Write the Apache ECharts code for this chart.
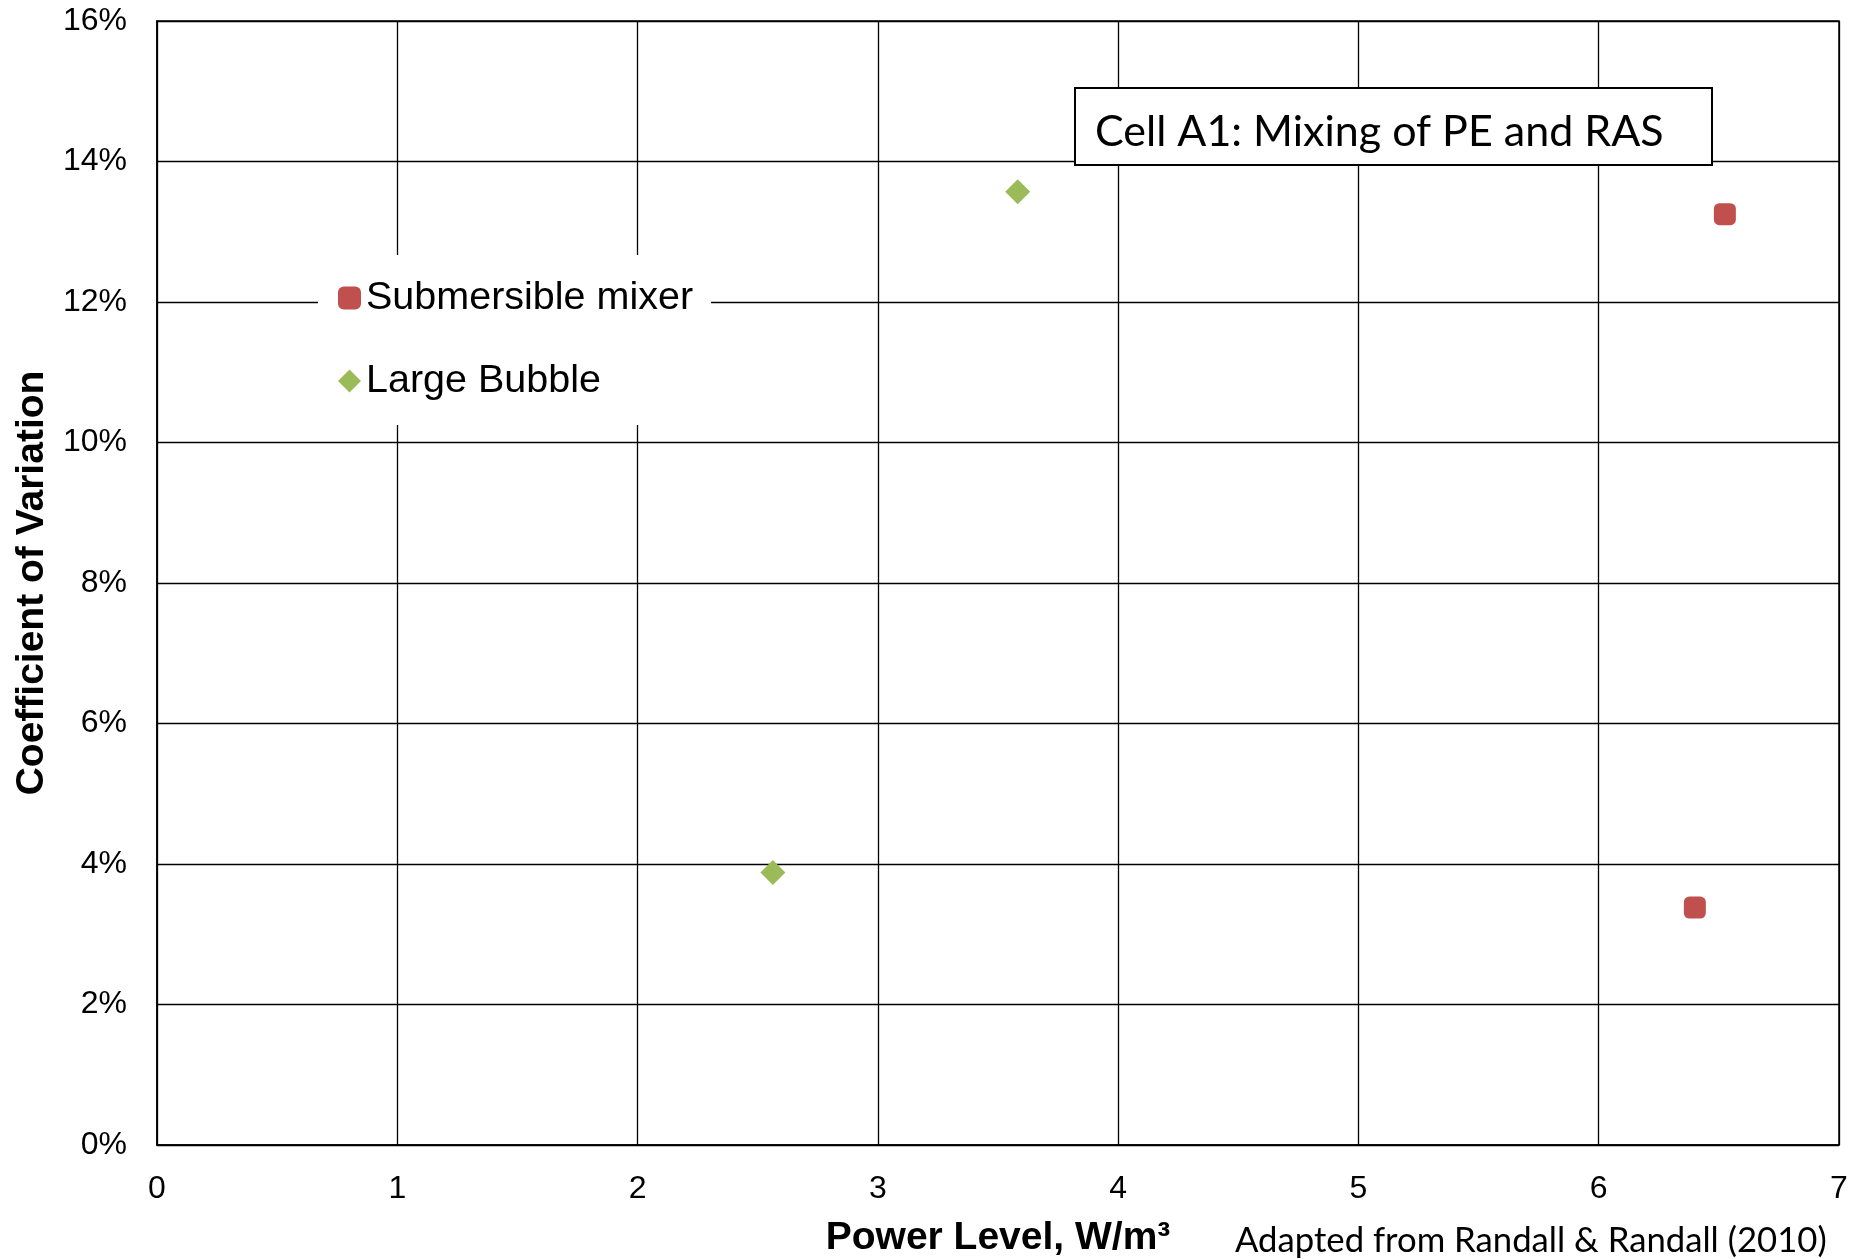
<!DOCTYPE html>
<html>
<head>
<meta charset="utf-8">
<script src="https://cdn.jsdelivr.net/npm/echarts@6/dist/echarts.min.js"></script>
<style>
html,body{margin:0;padding:0;background:#fff;}
#chart{width:1850px;height:1259px;}
</style>
</head>
<body>
<div id="chart"></div>
<script>
// Data (x = power level W/m³, y = coefficient of variation %)
const submersibleMixer = [[6.40, 3.38], [6.525, 13.25]];
const largeBubble = [[2.563, 3.88], [3.582, 13.57]];
const seriesNames = ['Submersible mixer', 'Large Bubble'];
const xTitle = 'Power Level, W/m³';
const yTitle = 'Coefficient of Variation';
const boxTitle = 'Cell A1: Mixing of PE and RAS';
const sourceNote = 'Adapted from Randall & Randall (2010)';

const chart = echarts.init(document.getElementById('chart'), null, {renderer: 'canvas'});
const AR = "'Liberation Sans', Arial, sans-serif";
const CAL = "Lato, 'Open Sans', sans-serif";

chart.setOption({
  animation: false,
  backgroundColor: '#fff',
  grid: {left: 157, right: 11, top: 21, bottom: 114, containLabel: false, outerBoundsMode: 'none', show: true, borderColor: '#000', borderWidth: 1.5, backgroundColor: 'transparent'},
  xAxis: {
    type: 'value', min: 0, max: 7, interval: 1,
    name: xTitle, nameLocation: 'middle', nameGap: 74,
    nameTextStyle: {fontFamily: AR, fontSize: 39, fontWeight: 'bold', color: '#000'},
    axisLine: {show: true, lineStyle: {color: '#000', width: 1.5}},
    axisTick: {show: false},
    axisLabel: {fontFamily: AR, fontSize: 32, color: '#000', margin: 28},
    splitLine: {show: true, lineStyle: {color: '#000', width: 1.3}}
  },
  yAxis: {
    type: 'value', min: 0, max: 16, interval: 2,
    name: yTitle, nameLocation: 'middle', nameGap: 104, nameRotate: 90,
    nameTextStyle: {fontFamily: AR, fontSize: 39, fontWeight: 'bold', color: '#000'},
    axisLine: {show: true, lineStyle: {color: '#000', width: 1.5}},
    axisTick: {show: false},
    axisLabel: {fontFamily: AR, fontSize: 32, color: '#000', margin: 30, formatter: '{value}%'},
    splitLine: {show: true, lineStyle: {color: '#000', width: 1.3}}
  },
  legend: {
    orient: 'vertical', left: 318, top: 255,
    backgroundColor: '#fff', padding: [23, 18, 24, 20],
    itemWidth: 23, itemHeight: 23, itemGap: 43, itemTextGap: 11,
    textStyle: {fontFamily: AR, fontSize: 39.5, color: '#000'},
    data: [
      {name: seriesNames[0], icon: 'roundRect'},
      {name: seriesNames[1], icon: 'diamond'}
    ]
  },
  series: [
    {name: seriesNames[0], type: 'scatter', data: submersibleMixer, symbol: 'roundRect', symbolSize: 22, itemStyle: {color: '#C0504D', opacity: 1}, z: 5},
    {name: seriesNames[1], type: 'scatter', data: largeBubble, symbol: 'diamond', symbolSize: 25, itemStyle: {color: '#9BBB59', opacity: 1}, z: 5}
  ],
  graphic: [
    {type: 'rect', shape: {x: 1075, y: 88, width: 637, height: 77}, style: {fill: '#fff', stroke: '#000', lineWidth: 2}, z: 10},
    {type: 'text', x: 1095, y: 132, style: {text: boxTitle, fontFamily: CAL, fontSize: 43, fill: '#000', verticalAlign: 'middle', textAlign: 'left'}, z: 11},
    {type: 'text', x: 1235, y: 1241, style: {text: sourceNote, fontFamily: CAL, fontSize: 34.7, fill: '#000', verticalAlign: 'middle', textAlign: 'left'}, z: 11}
  ]
});
</script>
</body>
</html>
